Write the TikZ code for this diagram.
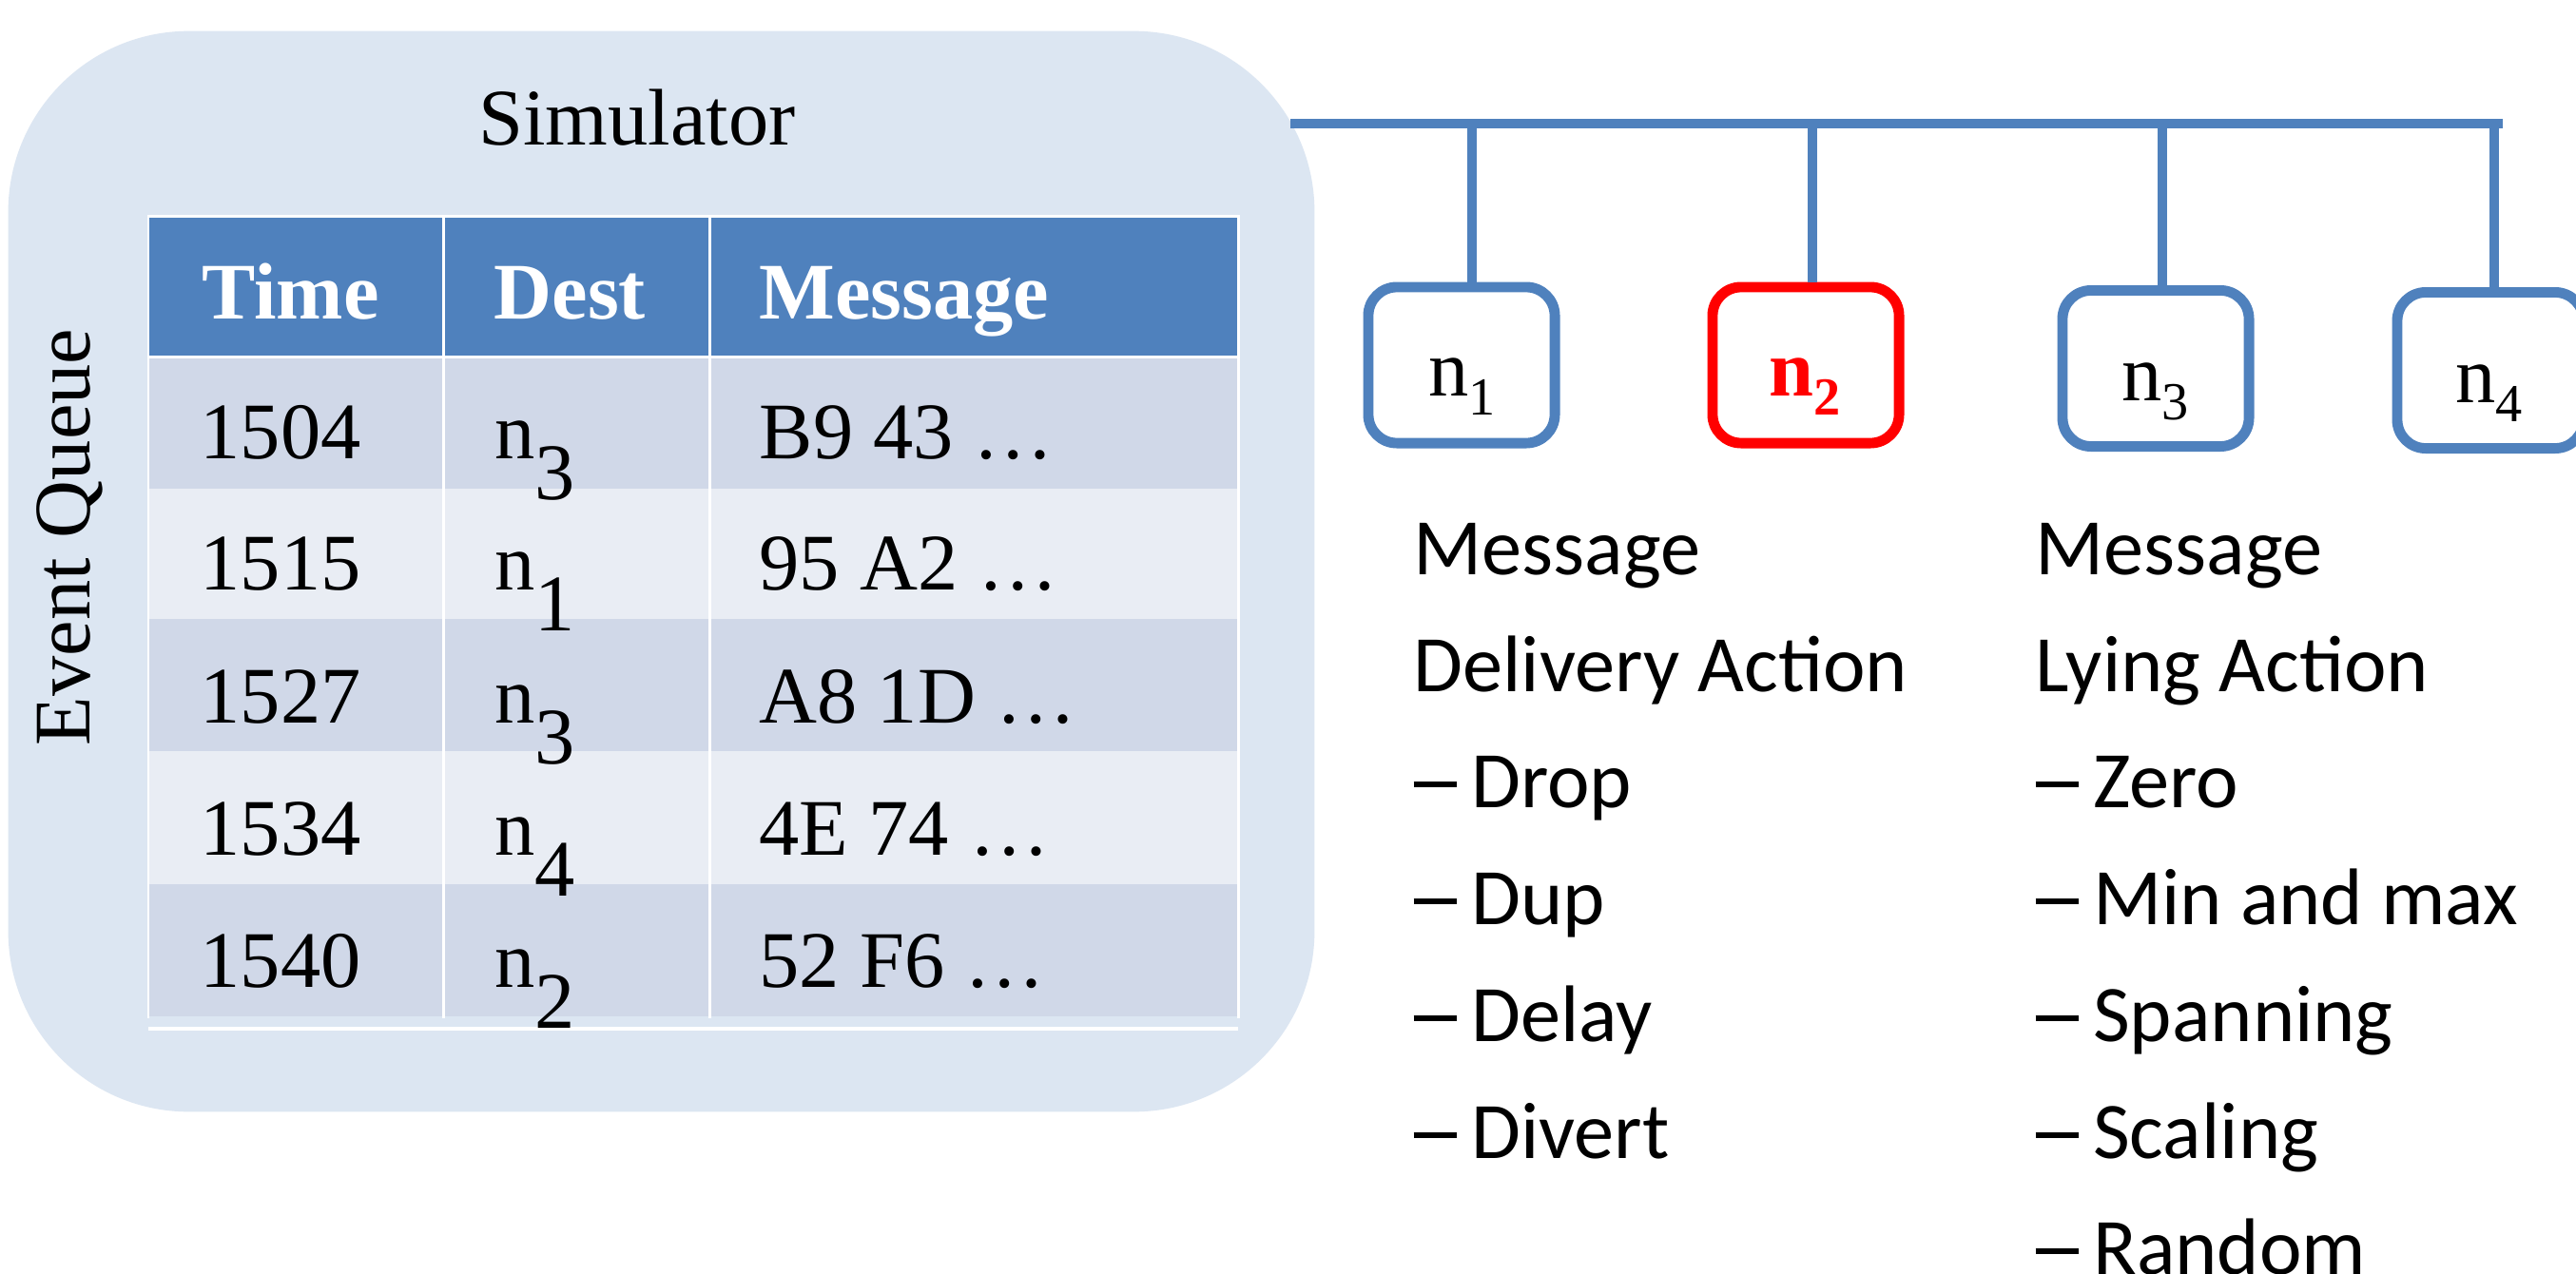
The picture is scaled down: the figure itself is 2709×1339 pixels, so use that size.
\documentclass[tikz,border=0pt]{standalone}
\usepackage{fontspec}
\setmainfont{Liberation Serif}
\newfontfamily\notefont{Carlito}
\definecolor{simbg}{HTML}{DCE6F2}
\definecolor{hdr}{HTML}{4F81BD}
\definecolor{rowA}{HTML}{D0D8E8}
\definecolor{rowB}{HTML}{E9EDF4}
\definecolor{netblue}{HTML}{4F81BD}
% bullet-style dash used in the action lists
\newcommand\dashitem[1]{\makebox[17.2pt][l]{\rule[6.05pt]{12.8pt}{1.7pt}}#1}
% node name with a full-size, deeply lowered index (table cells)
\newcommand\destn[1]{n\raisebox{-12.5pt}{#1}}
% node name with a small lowered index (host boxes)
\newcommand\hostn[1]{n\raisebox{-5.8pt}{\fontsize{16}{16}\selectfont #1}}

\begin{document}
\begin{tikzpicture}[x=0.01cm, y=-0.01cm,
  tfont/.style={font=\fontsize{24}{28}\selectfont},
  celltext/.style={anchor=base west, inner sep=0pt, tfont},
  headtext/.style={anchor=base west, inner sep=0pt, text=white,
                   font=\fontsize{24}{28}\selectfont\bfseries},
  gridline/.style={white, line width=0.85pt},
  wire/.style={draw=netblue, line width=3.1pt},
  host/.style={draw=netblue, line width=3.1pt, rounded corners=0.3cm,
               minimum width=1.96cm, minimum height=1.64cm, inner sep=0pt, fill=white},
  hostlabel/.style={anchor=base west, inner sep=0pt, tfont},
  note/.style={anchor=base west, inner sep=0pt,
               font=\notefont\fontsize{24}{28}\selectfont}]

\useasboundingbox (0,0) rectangle (2709,1339);
\fill[white] (0,0) rectangle (2709,1339);

% simulator panel
\node[fill=simbg, rounded corners=1.9cm, minimum width=13.73cm, minimum height=11.36cm,
      inner sep=0pt] (sim) at (695.5,601) {};
\node[anchor=base, inner sep=0pt, tfont] (simlabel) at (670,152) {Simulator};
\node[rotate=90, anchor=base, inner sep=0pt, tfont] (evq) at (94,565) {Event Queue};

% event queue table
\fill[hdr] (156,228) rectangle (1302,375);
\foreach \top/\bot/\c in {375/514/rowA, 514/651/rowB, 651/790/rowA, 790/930/rowB, 930/1069/rowA}
  \fill[\c] (156,\top) rectangle (1302,\bot);
\foreach \x in {156,466,746,1302}
  \draw[gridline] (\x,226) -- (\x,1071);
\draw[gridline] (156,227) -- (1302,227);
\draw[gridline] (156,375.5) -- (1302,375.5);
\draw[white, line width=1.2pt] (156,1082) -- (1302,1082);

\node[headtext] (hTime) at (212,335) {Time};
\node[headtext] (hDest) at (519,335) {Dest};
\node[headtext] (hMsg)  at (798,335) {Message};

\foreach \i/\y/\t/\d/\m in {1/482/1504/3/B9 43 …, 2/620/1515/1/95 A2 …,
                           3/760/1527/3/A8 1D …, 4/899/1534/4/4E 74 …,
                           5/1038/1540/2/52 F6 …} {
  \node[celltext] (time\i) at (210,\y) {\t};
  \node[celltext] (dest\i) at (520,\y) {\destn{\d}};
  \node[celltext] (msg\i)  at (798,\y) {\m};
}

% network hosts
\node[host] (h1) at (1537,384) {};
\node[host, draw=red] (h2) at (1899,384) {};
\node[host] (h3) at (2267,387.5) {};
\node[host] (h4) at (2619,389.5) {};

\node[hostlabel] (l1) at (1502,416) {\hostn{1}};
\node[hostlabel, text=red, font=\fontsize{24}{28}\selectfont\bfseries] (l2) at (1860,416.5) {\hostn{2}};
\node[hostlabel] (l3) at (2231,421.5) {\hostn{3}};
\node[hostlabel] (l4) at (2582,423) {\hostn{4}};

% bus and drops
\coordinate (busL) at (1357,130);
\coordinate (busR) at (2632,130);
\draw[wire] (busL) -- (busR);
\coordinate (t1) at (1548,130);
\coordinate (t2) at (1906,130);
\coordinate (t3) at (2274,130);
\coordinate (t4) at (2623,130);
\foreach \k in {1,...,4}
  \draw[wire] (t\k) -- (t\k |- h\k.north);

% action lists
\foreach \i/\y/\s in {1/604/Message, 2/727/Delivery Action, 3/849/\dashitem{Drop},
                      4/972/\dashitem{Dup}, 5/1095/\dashitem{Delay}, 6/1218/\dashitem{Divert}}
  \node[note] (del\i) at (1486,\y) {\s};
\foreach \i/\y/\s in {1/604/Message, 2/727/Lying Action, 3/849/\dashitem{Zero},
                      4/972/\dashitem{Min and max}, 5/1095/\dashitem{Spanning},
                      6/1218/\dashitem{Scaling}, 7/1340/\dashitem{Random}}
  \node[note] (lie\i) at (2140,\y) {\s};
\end{tikzpicture}
\end{document}
